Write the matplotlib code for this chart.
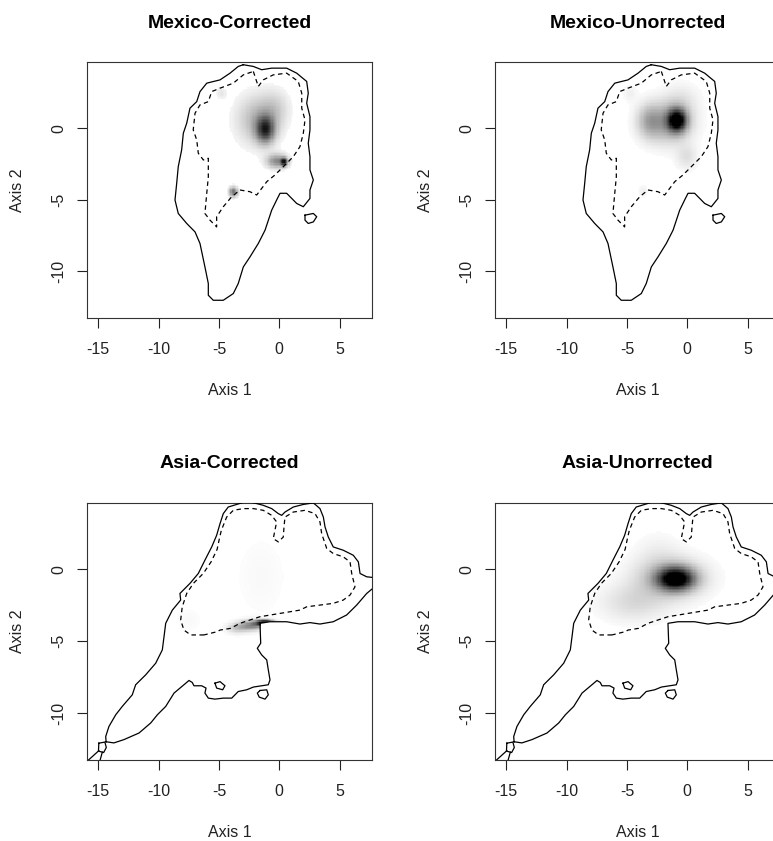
import numpy as np
import matplotlib
matplotlib.use('Agg')
import matplotlib.pyplot as plt
from matplotlib.path import Path

plt.rcParams['font.family'] = ['Liberation Sans', 'DejaVu Sans']

# ---------------- data ----------------
panel_titles = ["Mexico-Corrected", "Mexico-Unorrected", "Asia-Corrected", "Asia-Unorrected"]
x_ticks = [-15, -10, -5, 0, 5]
y_ticks = [-10, -5, 0]
x_label = "Axis 1"
y_label = "Axis 2"
x_range = (-15.93, 7.68)
y_range = (-13.27, 4.63)

# Mexico environmental space (solid = outer contour, dashed = inner contour)
mex_outer_x = [-2.98, -2.15, -1.46, -0.63, 0.61, 1.44, 2.27, 2.40, 2.27, 2.54, 2.54, 2.40, 2.54, 2.54, 2.82,
               2.54, 2.54, 1.99, 1.44, 0.61, 0.06, -0.22, -0.63, -1.18, -1.74, -2.43, -2.98, -3.40, -3.81,
               -4.64, -5.47, -5.88, -5.88, -6.16, -6.57, -6.98, -7.67, -8.37, -8.64, -8.50, -8.37, -8.09,
               -7.95, -7.67, -7.40, -6.84, -6.57, -6.01, -4.91, -4.08, -3.40, -2.98]
mex_outer_y = [4.44, 4.32, 4.09, 4.20, 4.20, 3.85, 3.27, 2.45, 1.75, 0.81, -0.12, -1.05, -1.99, -2.92, -3.62,
               -4.32, -4.91, -5.49, -5.26, -4.55, -4.55, -5.02, -5.73, -7.13, -8.06, -9.00, -9.70, -10.86,
               -11.56, -12.03, -12.03, -11.68, -10.86, -9.70, -8.06, -7.25, -6.66, -5.96, -5.02, -3.85,
               -2.69, -1.52, -0.35, 0.35, 1.40, 1.86, 2.56, 3.15, 3.38, 3.85, 4.32, 4.44]
mex_inner_x = [-2.15, -1.74, -1.33, -0.50, 0.61, 1.57, 1.86, 1.86, 2.13, 1.99, 1.71, 1.16, 0.33, -0.36,
               -1.04, -1.87, -2.43, -3.26, -3.94, -4.64, -5.19, -5.19, -5.74, -6.16, -6.01, -5.88, -5.88,
               -6.29, -6.71, -6.84, -7.13, -6.98, -6.57, -5.88, -5.60, -4.91, -3.81, -2.98, -2.15]
mex_inner_y = [3.97, 2.92, 3.38, 3.73, 3.85, 3.27, 2.45, 1.40, 0.58, -0.35, -1.29, -1.99, -2.69, -3.27,
               -3.74, -4.67, -4.44, -4.32, -4.79, -5.49, -6.19, -6.90, -6.43, -5.96, -4.55, -3.41, -2.10,
               -2.22, -1.75, -0.82, -0.12, 1.05, 1.63, 1.86, 2.56, 2.80, 3.15, 3.73, 3.97]
mex_island_x = [2.13, 2.82, 3.10, 2.82, 2.40, 2.13, 2.13]
mex_island_y = [-6.08, -5.96, -6.19, -6.55, -6.66, -6.43, -6.08]

# Asia environmental space
asia_outer_x = [-14.35, -14.38, -14.11, -13.55, -13.01, -12.18, -11.90, -11.07, -10.24, -9.69, -9.55, -9.41,
                -8.86, -8.17, -8.23, -7.40, -6.71, -6.16, -5.60, -5.19, -4.91, -4.64, -4.23, -3.53, -2.70,
                -2.01, -1.33, -0.63, -0.08, 0.20, 0.47, 1.16, 1.99, 2.82, 3.37, 3.65, 3.79, 4.06, 4.47, 5.30,
                6.13, 6.55, 6.69, 7.24, 7.79, 8.60, 8.60, 7.74, 7.24, 6.41, 5.58, 4.47, 3.37, 2.54, 1.71,
                0.61, -0.77, -1.60, -1.54, -1.82, -1.46, -1.04, -0.91, -0.77, -0.91, -1.46, -2.15, -2.70,
                -3.40, -3.94, -4.64, -5.33, -5.88, -6.16, -6.07, -6.43, -7.07, -7.21, -7.48, -7.90, -8.72,
                -9.41, -10.10, -10.65, -11.62, -12.87, -13.70, -14.35]
asia_outer_y = [-12.00, -11.63, -10.93, -10.12, -9.54, -8.73, -8.03, -7.34, -6.53, -5.60, -4.68, -3.75,
                -2.83, -2.13, -1.67, -0.97, -0.28, 0.65, 1.57, 2.38, 3.19, 3.89, 4.35, 4.53, 4.75, 4.62,
                4.47, 4.24, 3.89, 3.77, 4.00, 4.35, 4.53, 4.64, 4.24, 3.65, 2.96, 2.26, 1.57, 1.34, 0.99,
                0.53, -0.28, -0.51, -0.56, -0.75, -1.20, -1.32, -1.67, -2.48, -3.17, -3.64, -3.80, -3.70,
                -3.80, -3.64, -3.64, -3.75, -5.14, -5.49, -5.95, -6.30, -6.99, -7.69, -8.03, -8.10, -8.19,
                -8.38, -8.50, -8.96, -8.96, -9.03, -8.96, -8.61, -8.26, -8.10, -8.10, -7.87, -7.73, -8.03,
                -8.61, -9.54, -10.12, -10.69, -11.39, -11.85, -12.08, -12.00]
asia_inner_x = [-6.24, -7.34, -7.90, -8.17, -8.04, -7.67, -7.12, -6.30, -5.65, -5.15, -4.95, -4.80, -4.36,
                -3.81, -2.98, -2.15, -1.33, -0.63, -0.22, -0.36, -0.50, -0.08, 0.33, 0.39, 0.47, 1.16, 2.13,
                2.96, 3.37, 3.51, 3.93, 4.47, 5.30, 5.86, 6.00, 6.27, 5.86, 5.30, 4.47, 3.37, 2.27, 1.71,
                0.06, -1.60, -3.26, -4.03, -4.91, -5.14, -6.24]
asia_inner_y = [-4.56, -4.56, -4.22, -3.52, -2.60, -1.67, -0.97, -0.28, 0.53, 1.40, 2.20, 2.73, 3.65,
                4.12, 4.24, 4.24, 4.12, 3.77, 3.31, 2.73, 2.15, 1.92, 2.26, 2.96, 3.65, 4.00, 4.12, 3.89,
                3.31, 2.50, 1.46, 1.11, 0.88, 0.53, -0.28, -1.21, -1.78, -2.13, -2.36, -2.48, -2.60, -2.83,
                -3.06, -3.29, -3.75, -4.10, -4.22, -4.33, -4.56]
asia_island1_x = [-5.33, -4.91, -4.50, -4.69, -5.19, -5.33]
asia_island1_y = [-7.92, -7.81, -8.10, -8.38, -8.26, -7.92]
asia_island2_x = [-1.60, -1.04, -0.91, -1.18, -1.66, -1.82, -1.60]
asia_island2_y = [-8.43, -8.38, -8.73, -9.03, -8.89, -8.61, -8.43]
asia_tip_loop_x = [-14.95, -14.45, -14.33, -14.55, -14.98, -14.95]
asia_tip_loop_y = [-12.10, -12.02, -12.40, -12.75, -12.65, -12.10]
asia_tip_line1_x = [-14.95, -16.50]
asia_tip_line1_y = [-12.62, -13.80]
asia_tip_line2_x = [-14.66, -14.95]
asia_tip_line2_y = [-12.72, -13.60]

# density kernels (centre, peak darkness, spread)
mexc_cx = [-1.15, -1.80, -0.30, -0.20, 0.40, -3.80, -4.80]
mexc_cy = [-0.10, 0.60, 1.40, -2.30, -2.35, -4.45, 2.45]
mexc_amp = [0.70, 0.28, 0.14, 0.45, 0.70, 0.55, 0.10]
mexc_sx = [0.55, 1.20, 0.80, 0.60, 0.20, 0.25, 0.30]
mexc_sy = [0.65, 1.20, 0.90, 0.35, 0.20, 0.25, 0.30]

mexu_cx = [-0.90, -1.60, -3.20, -0.10, -0.50, -4.80, -3.70]
mexu_cy = [0.55, 0.40, 0.50, -2.00, 2.00, 2.45, -4.40]
mexu_amp = [0.95, 0.35, 0.25, 0.12, 0.08, 0.06, 0.06]
mexu_sx = [0.55, 1.30, 0.70, 0.60, 1.00, 0.40, 0.30]
mexu_sy = [0.55, 1.00, 0.80, 0.60, 0.80, 0.40, 0.30]

asiac_cx = [-1.20, -2.30, -3.50, -1.50, -7.50]
asiac_cy = [-3.72, -3.90, -4.10, -0.50, -3.50]
asiac_amp = [1.00, 0.45, 0.20, 0.025, 0.025]
asiac_sx = [0.50, 0.70, 0.60, 1.50, 0.80]
asiac_sy = [0.15, 0.25, 0.25, 2.00, 0.60]

asiau_cx = [-1.00, -1.50, -4.50, -2.50]
asiau_cy = [-0.65, -0.60, -2.30, 1.20]
asiau_amp = [1.00, 0.28, 0.14, 0.05]
asiau_sx = [1.05, 2.00, 1.90, 1.30]
asiau_sy = [0.55, 1.00, 0.90, 1.00]

# ---------------- drawing ----------------
W, H = 773, 841
fig = plt.figure(figsize=(W / 100, H / 100), dpi=100)

gx = np.arange(-16.2, 8.2, 0.1)
gy = np.arange(-13.6, 5.0, 0.1)
GX, GY = np.meshgrid(gx, gy)


def density(cx, cy, amp, sx, sy, mask_x, mask_y, thr):
    z = np.zeros_like(GX)
    for a, b, c, d, e in zip(cx, cy, amp, sx, sy):
        z += c * np.exp(-((GX - a) ** 2 / (2 * d ** 2) + (GY - b) ** 2 / (2 * e ** 2)))
    path = Path(np.column_stack([mask_x, mask_y]))
    inside = path.contains_points(np.column_stack([GX.ravel(), GY.ravel()])).reshape(GX.shape)
    z = np.where(inside, z, 0.0)
    z = np.clip(z, 0, 1)
    return np.ma.masked_less(z, thr)


panels = [
    (0, 0, (mexc_cx, mexc_cy, mexc_amp, mexc_sx, mexc_sy), 'mex', 0.04),
    (1, 0, (mexu_cx, mexu_cy, mexu_amp, mexu_sx, mexu_sy), 'mex', 0.02),
    (0, 1, (asiac_cx, asiac_cy, asiac_amp, asiac_sx, asiac_sy), 'asia', 0.012),
    (1, 1, (asiau_cx, asiau_cy, asiau_amp, asiau_sx, asiau_sy), 'asia', 0.02),
]

dash = (0, (3.6, 2.8))
for i, (col, row, blobs, region, thr) in enumerate(panels):
    left = 87 + 408 * col
    top = 62 if row == 0 else 503
    hgt = 256 if row == 0 else 257
    ax = fig.add_axes([left / W, (H - top - hgt) / H, 285 / W, hgt / H])

    if region == 'mex':
        z = density(*blobs, mex_outer_x, mex_outer_y, thr)
    else:
        z = density(*blobs, asia_outer_x, asia_outer_y, thr)
    ax.imshow(z, cmap='gray_r', vmin=0, vmax=1, origin='lower', aspect='auto',
              extent=(gx[0] - 0.05, gx[-1] + 0.05, gy[0] - 0.05, gy[-1] + 0.05),
              interpolation='nearest', zorder=1)

    lw = 0.9
    if region == 'mex':
        ax.plot(mex_outer_x, mex_outer_y, color='black', lw=lw, zorder=3)
        ax.plot(mex_inner_x, mex_inner_y, color='black', lw=lw, linestyle=dash, zorder=3)
        ax.plot(mex_island_x, mex_island_y, color='black', lw=lw, zorder=3)
    else:
        ax.plot(asia_outer_x, asia_outer_y, color='black', lw=lw, zorder=3)
        ax.plot(asia_inner_x, asia_inner_y, color='black', lw=lw, linestyle=dash, zorder=3)
        ax.plot(asia_island1_x, asia_island1_y, color='black', lw=lw, zorder=3)
        ax.plot(asia_island2_x, asia_island2_y, color='black', lw=lw, zorder=3)
        ax.plot(asia_tip_loop_x, asia_tip_loop_y, color='black', lw=lw, zorder=3)
        ax.plot(asia_tip_line1_x, asia_tip_line1_y, color='black', lw=lw, zorder=3)
        ax.plot(asia_tip_line2_x, asia_tip_line2_y, color='black', lw=lw, zorder=3)

    ax.set_xlim(*x_range)
    ax.set_ylim(*y_range)
    ax.set_xticks(x_ticks)
    ax.set_yticks(y_ticks)
    ax.set_xticklabels([str(v) for v in x_ticks])
    ax.set_yticklabels([str(v) for v in y_ticks], rotation=90, va='center')
    ax.tick_params(direction='out', length=7.2, width=0.8, labelsize=11.5,
                   colors='#222222', labelcolor='#222222')
    ax.tick_params(axis='x', pad=10)
    ax.tick_params(axis='y', pad=8)
    for s in ax.spines.values():
        s.set_linewidth(0.8)
        s.set_color('#333333')

    ax.text(0.5, 1 + 39 / hgt, panel_titles[i], transform=ax.transAxes, ha='center', va='center',
            fontsize=14, fontweight='bold', color='black')
    ax.text(0.5, -72.7 / hgt, x_label, transform=ax.transAxes, ha='center', va='center',
            fontsize=11.5, color='#222222')
    ax.text(-70 / 285, 0.5, y_label, transform=ax.transAxes, ha='center', va='center',
            fontsize=11.5, rotation=90, color='#222222')

fig.savefig('out.png', dpi=100)
